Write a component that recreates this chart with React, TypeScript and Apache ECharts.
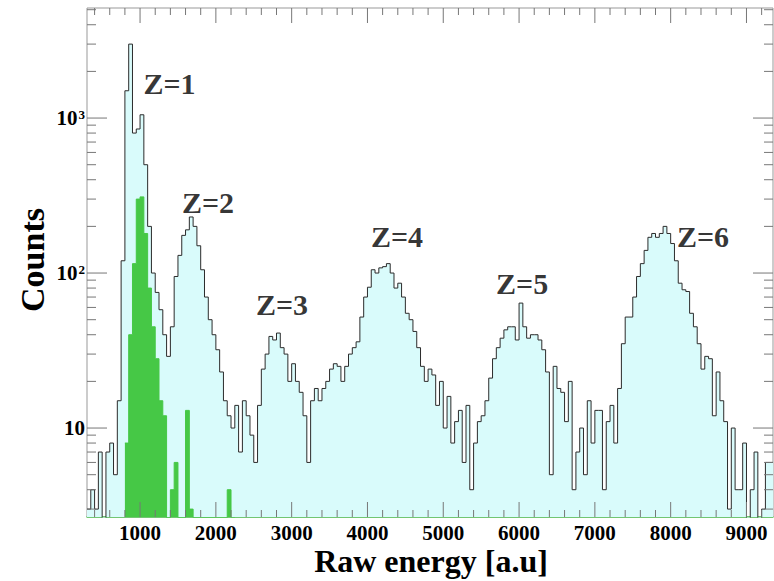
import React, { useEffect, useRef } from 'react';
import * as echarts from 'echarts';

// Histogram binning (a.u.)
const BIN_START = 300;
const BIN_WIDTH = 50;
const X_MIN = 300;
const X_MAX = 9350;
const Y_MIN = 2.667;
const Y_MAX = 5129;

// All events: counts per 50 a.u. bin, starting at 300
const allCounts = [
  3, 4, 3, 7, 0, 7, 8, 5, 15, 120,
  1500, 3000, 800, 850, 1050, 500, 200, 100, 75, 58,
  40, 29, 45, 95, 130, 175, 190, 230, 200, 150,
  105, 70, 50, 40, 32, 23, 15, 12, 10, 14,
  7, 15, 12, 9, 6, 14, 24, 30, 39, 37,
  41, 33, 30, 20, 26, 20, 17, 12, 6, 15,
  18, 15, 18, 20, 24, 26, 25, 20, 25, 30,
  33, 36, 52, 70, 81, 105, 100, 108, 110, 115,
  100, 80, 86, 70, 55, 50, 42, 33, 25, 20,
  24, 22, 14, 20, 10, 16, 8, 11, 13, 6,
  14, 4, 8, 11, 12, 15, 21, 28, 33, 38,
  43, 45, 45, 37, 64, 45, 38, 40, 40, 37,
  32, 23, 5, 25, 18, 17, 11, 20, 4, 7,
  10, 5, 15, 8, 13, 13, 4, 11, 14, 8,
  18, 35, 52, 52, 70, 95, 115, 140, 170, 180,
  170, 180, 200, 180, 155, 120, 86, 78, 76, 55,
  45, 35, 24, 29, 28, 12, 23, 15, 11, 3,
  10, 4, 4, 8, 0, 4, 7, 0, 3, 6,
  6,
];

// Selected (green) events: counts per 50 a.u. bin, starting at 800
const GREEN_START = 800;
const greenCounts = [
  8, 40, 115, 300, 310, 180, 80, 45, 28, 15,
  12, 0, 4, 6, 0, 0, 13, 3, 0, 0,
  0, 0, 0, 0, 0, 0, 0, 4, 0,
];

// Peak annotations
const zLabels = ['Z=1', 'Z=2', 'Z=3', 'Z=4', 'Z=5', 'Z=6'];
const zLabelEnergy = [1389, 1897, 2873, 4390, 6040, 8427];
const zLabelCounts = [1670, 287, 63, 171, 86, 173];

// Axis titles
const xTitle = 'Raw energy [a.u]';
const yTitle = 'Counts';

// Axis ticks
const xMajorTicks = [1000, 2000, 3000, 4000, 5000, 6000, 7000, 8000, 9000];
const xMinorTicks = [400, 600, 800, 1200, 1400, 1600, 1800, 2200, 2400, 2600, 2800, 3200, 3400, 3600, 3800,
  4200, 4400, 4600, 4800, 5200, 5400, 5600, 5800, 6200, 6400, 6600, 6800, 7200, 7400, 7600, 7800,
  8200, 8400, 8600, 8800, 9200];
const yMajorTicks = [10, 100, 1000];
const yMinorTicks = [3, 4, 5, 6, 7, 8, 9, 20, 30, 40, 50, 60, 70, 80, 90,
  200, 300, 400, 500, 600, 700, 800, 900, 2000, 3000, 4000, 5000];

const FONT = 'Liberation Serif';

function histPoints(counts: number[], start: number) {
  const pts = counts.map((c, i) => [start + i * BIN_WIDTH, Math.max(c, 1)]);
  pts.push([start + counts.length * BIN_WIDTH, Math.max(counts[counts.length - 1], 1)]);
  return pts;
}

type Tick = { axis: 'x' | 'y'; value: number; major: boolean };

export default function App() {
  const ref = useRef<HTMLDivElement>(null);

  useEffect(() => {
    if (!ref.current) return;
    const chart = echarts.init(ref.current, null, { renderer: 'svg' });

    const ticks: Tick[] = [
      ...xMajorTicks.map((v) => ({ axis: 'x' as const, value: v, major: true })),
      ...xMinorTicks.map((v) => ({ axis: 'x' as const, value: v, major: false })),
      ...yMajorTicks.map((v) => ({ axis: 'y' as const, value: v, major: true })),
      ...yMinorTicks.map((v) => ({ axis: 'y' as const, value: v, major: false })),
    ];
    const tickColor = '#777';

    const option: any = {
      animation: false,
      backgroundColor: '#fff',
      grid: {
        left: 87,
        top: 8,
        width: 686,
        height: 509,
        containLabel: false,
        outerBoundsMode: 'none',
        show: true,
        borderColor: '#999',
        borderWidth: 1,
        backgroundColor: 'transparent',
      },
      graphic: [
        {
          type: 'text',
          x: 431,
          y: 561,
          silent: true,
          style: {
            text: xTitle,
            fontFamily: FONT,
            fontWeight: 'bold',
            fontSize: 32,
            fill: '#000',
            align: 'center',
            verticalAlign: 'middle',
          },
        },
        {
          type: 'text',
          x: 32,
          y: 260,
          rotation: Math.PI / 2,
          silent: true,
          style: {
            text: yTitle,
            fontFamily: FONT,
            fontWeight: 'bold',
            fontSize: 34,
            fill: '#000',
            align: 'center',
            verticalAlign: 'middle',
          },
        },
      ],
      xAxis: {
        type: 'value',
        min: X_MIN,
        max: X_MAX,
        splitNumber: 9,
        axisLine: { show: true, onZero: false, lineStyle: { color: '#55c455', width: 1.5 } },
        axisTick: { show: false },
        splitLine: { show: false },
        axisLabel: {
          fontFamily: FONT,
          fontWeight: 'bold',
          fontSize: 21,
          color: '#000',
          margin: 5,
          showMinLabel: false,
          showMaxLabel: false,
          formatter: (v: number) => String(v),
        },
      },
      yAxis: {
        type: 'log',
        logBase: 10,
        min: Y_MIN,
        max: Y_MAX,
        axisLine: { show: false },
        axisTick: { show: false },
        splitLine: { show: false },
        minorTick: { show: false },
        axisLabel: {
          fontFamily: FONT,
          fontWeight: 'bold',
          fontSize: 21,
          color: '#000',
          margin: 2,
          showMinLabel: false,
          showMaxLabel: false,
          formatter: (v: number) => {
            const e = Math.round(Math.log10(v));
            if (Math.abs(Math.log10(v) - e) > 1e-6) return '';
            if (e === 1) return '10';
            return '10{s|' + e + '}';
          },
          rich: {
            s: { fontFamily: FONT, fontWeight: 'bold', fontSize: 13, color: '#000', verticalAlign: 'top', padding: [0, 0, 8, 1] },
          },
        },
      },
      series: [
        {
          type: 'line',
          step: 'end',
          data: histPoints(allCounts, BIN_START),
          symbol: 'none',
          silent: true,
          clip: true,
          lineStyle: { color: '#2b2b2b', width: 1 },
          areaStyle: { color: '#d9fbfb', opacity: 1, origin: 'start' },
          z: 2,
        },
        {
          type: 'line',
          step: 'end',
          data: histPoints(greenCounts, GREEN_START),
          symbol: 'none',
          silent: true,
          clip: true,
          lineStyle: { color: '#46c846', width: 1 },
          areaStyle: { color: '#46c846', opacity: 1, origin: 'start' },
          z: 3,
        },
        {
          type: 'custom',
          silent: true,
          z: 5,
          data: ticks.map((t) => (t.axis === 'x' ? [t.value, Y_MAX] : [X_MIN, t.value])),
          renderItem: (params: any, api: any) => {
            const t = ticks[params.dataIndex];
            const cs = params.coordSys;
            const style = { stroke: tickColor, lineWidth: 1 };
            if (t.axis === 'x') {
              const p = api.coord([t.value, Y_MAX]);
              const len = t.major ? 15 : 7;
              const bottom = cs.y + cs.height;
              return {
                type: 'group',
                children: [
                  { type: 'line', shape: { x1: p[0], y1: bottom, x2: p[0], y2: bottom - len }, style },
                  { type: 'line', shape: { x1: p[0], y1: cs.y, x2: p[0], y2: cs.y + len }, style },
                ],
              };
            }
            const p = api.coord([X_MIN, t.value]);
            const len = t.major ? 20 : 9;
            const right = cs.x + cs.width;
            return {
              type: 'group',
              children: [
                { type: 'line', shape: { x1: cs.x, y1: p[1], x2: cs.x + len, y2: p[1] }, style },
                { type: 'line', shape: { x1: right, y1: p[1], x2: right - len, y2: p[1] }, style },
              ],
            };
          },
        },
        {
          type: 'scatter',
          silent: true,
          z: 6,
          symbolSize: 1,
          itemStyle: { color: 'rgba(0,0,0,0)' },
          data: zLabels.map((t, i) => ({ name: t, value: [zLabelEnergy[i], zLabelCounts[i]] })),
          label: {
            show: true,
            position: 'inside',
            formatter: '{b}',
            fontFamily: FONT,
            fontWeight: 'bold',
            fontSize: 30,
            color: '#000',
          },
        },
      ],
    };

    chart.setOption(option);
    return () => chart.dispose();
  }, []);

  return (
    <div
      ref={ref}
      style={{ position: 'fixed', left: 0, top: 0, width: 774, height: 581, background: '#fff' }}
    />
  );
}
